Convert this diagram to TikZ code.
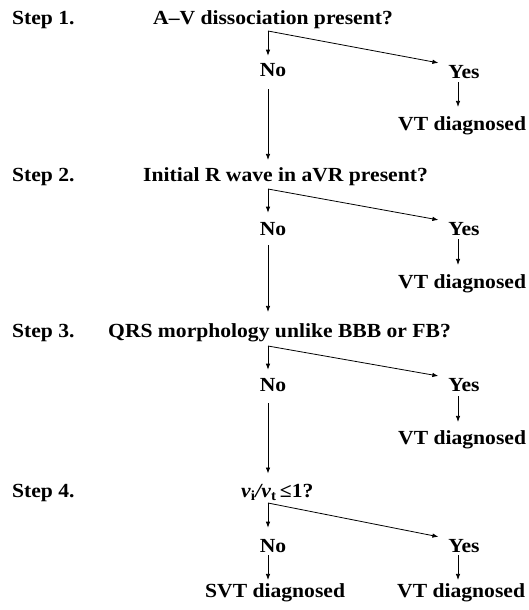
\documentclass[tikz,border=0pt]{standalone}
\usepackage{fontspec}
\setmainfont{Liberation Serif}[FakeStretch=1.08]
\usetikzlibrary{arrows.meta}
\begin{document}
\begin{tikzpicture}[x=1pt,y=-1pt,
  txt/.style={inner sep=0pt, anchor=base west, font=\fontsize{20}{24}\selectfont\bfseries},
  ctr/.style={inner sep=0pt, anchor=base, font=\fontsize{20}{24}\selectfont\bfseries},
  arr/.style={line width=0.8pt, -{Latex[length=6pt,width=4.5pt]}}]
\useasboundingbox (0,0) rectangle (528,610);
\fill[white] (0,0) rectangle (528,610);
\coordinate (ycol) at (458,0);
% Step 1
\node[txt] (s1) at (12,25) {Step 1.};
\node[txt] (q1) at (153,25) {A–V dissociation present?};
\coordinate (b1) at (268,31);
\node[ctr] (no1) at (273,77) {No};
\node[ctr] (yes1) at (464,78) {Yes};
\node[txt] (vt1) at (398,130) {VT diagnosed};
% Step 2
\node[txt] (s2) at (12,181) {Step 2.};
\node[txt] (q2) at (143,181) {Initial R wave in aVR present?};
\coordinate (b2) at (268,189);
\node[ctr] (no2) at (273,235) {No};
\node[ctr] (yes2) at (464,235) {Yes};
\node[txt] (vt2) at (398,288) {VT diagnosed};
% Step 3
\node[txt] (s3) at (12,337) {Step 3.};
\node[txt] (q3) at (108,337) {QRS morphology unlike BBB or FB?};
\coordinate (b3) at (268,346);
\node[ctr] (no3) at (273,391) {No};
\node[ctr] (yes3) at (464,391) {Yes};
\node[txt] (vt3) at (398,444) {VT diagnosed};
% Step 4
\node[txt] (s4) at (12,497) {Step 4.};
\node[txt] (q4) at (241,497) {\itshape v\textsubscript{\upshape i}/v\textsubscript{\upshape t}\,\upshape ≤1?};
\coordinate (b4) at (268,503);
\node[ctr] (no4) at (273,552) {No};
\node[ctr] (yes4) at (464,552) {Yes};
\node[txt] (svt) at (205,597) {SVT diagnosed};
\node[txt] (vt4) at (397,597) {VT diagnosed};
% branches
\foreach \i/\d in {1/8,2/9,3/8,4/11}{
  \draw[arr, shorten >=\d pt] (b\i) -- (b\i |- no\i.north);
  \draw[arr, shorten >=10pt] (b\i) -- (yes\i.north west);
}
% yes -> VT
\foreach \i/\s/\e in {1/4/9,2/4/9,3/5/8}{
  \draw[arr, shorten <=\s pt, shorten >=\e pt] (ycol |- yes\i.south) -- (ycol |- vt\i.north);
}
\draw[arr, shorten <=3pt, shorten >=3pt] (ycol |- yes4.south) -- (ycol |- vt4.north);
\draw[arr, shorten <=3pt, shorten >=3pt] (b4 |- no4.south) -- (b4 |- svt.north);
% no -> next step
\draw[arr, shorten <=12pt, shorten >=7pt] (b1 |- no1.south) -- (b1 |- q2.north);
\draw[arr, shorten <=10pt, shorten >=11pt] (b2 |- no2.south) -- (b2 |- q3.north);
\draw[arr, shorten <=12pt, shorten >=10pt] (b3 |- no3.south) -- (b3 |- q4.north);
\end{tikzpicture}
\end{document}
